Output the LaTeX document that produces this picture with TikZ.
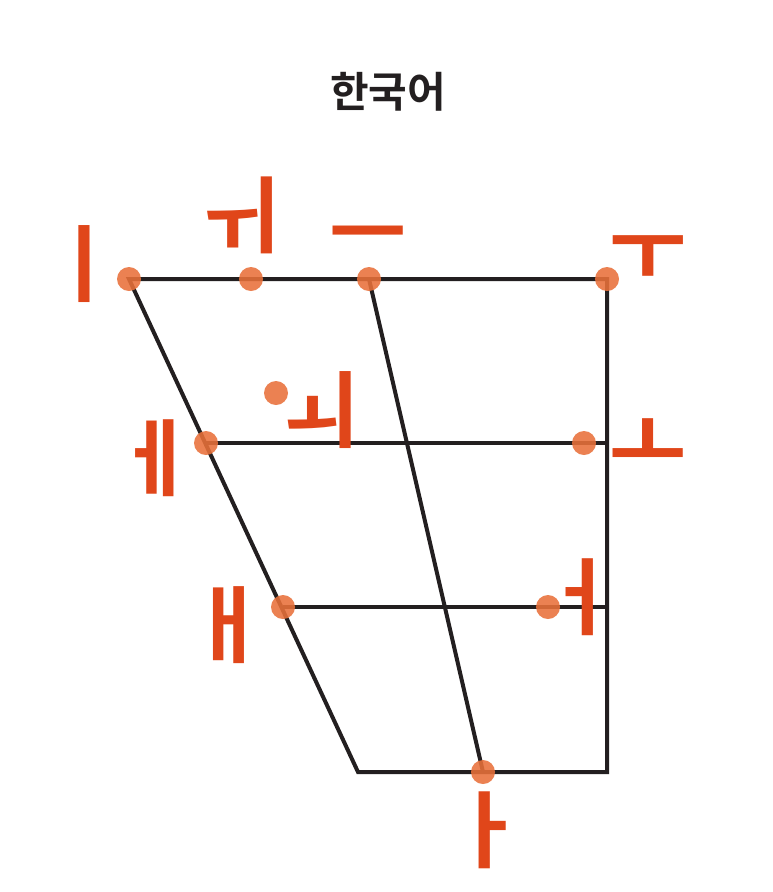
\documentclass[tikz,border=0pt]{standalone}
\usepackage{fontspec}
\newfontfamily\kr{Noto Sans CJK KR}[BoldFont={Noto Sans CJK KR Bold}]
\definecolor{labred}{HTML}{E0461A}
\definecolor{dotor}{HTML}{E8703A}
\definecolor{lineblk}{HTML}{231F20}
\begin{document}
\begin{tikzpicture}[x=1pt,y=-1pt,
  vdot/.style={circle,fill=dotor,fill opacity=0.88,inner sep=0pt,minimum size=24pt},
  vlab/.style={text=labred,font=\kr\bfseries\fontsize{84}{84}\selectfont,inner sep=0pt},
  frame/.style={draw=lineblk,line width=4pt}]
\useasboundingbox (0,0) rectangle (773,892);
\node[font=\kr\bfseries\fontsize{42}{42}\selectfont,text=lineblk] (title) at (388,92) {한국어};
% corners
\coordinate (tl) at (129,279);
\coordinate (tr) at (607,279);
\coordinate (bl) at (358,772);
\coordinate (br) at (607,772);
\coordinate (mr) at (607,443);
\coordinate (lr) at (607,607);
\coordinate (ml) at (206,443);
\coordinate (ll) at (283,607);
\coordinate (tc) at (369,279);
\coordinate (bc) at (483,772);
% frame
\draw[frame] (tl) -- (tr) -- (br) -- (bl) -- cycle;
\draw[frame] (tc) -- (bc);
\draw[frame] (ml) -- (mr);
\draw[frame] (ll) -- (lr);
% dots
\node[vdot] (di) at (tl) {};
\node[vdot] (dy) at (251,279) {};
\node[vdot] (deu) at (tc) {};
\node[vdot] (du) at (tr) {};
\node[vdot] (doe) at (276,393) {};
\node[vdot] (de) at (ml) {};
\node[vdot] (do) at (584,443) {};
\node[vdot] (dae) at (ll) {};
\node[vdot] (deo) at (548,607) {};
\node[vdot] (da) at (bc) {};
% labels
\node[vlab] (li) at (84,264) {ㅣ};
\node[vlab] (ly) at (240,215) {ㅟ};
\node[vlab] (leu) at (368,245) {ㅡ};
\node[vlab] (lu) at (648,258) {ㅜ};
\node[vlab] (loe) at (320,410) {ㅚ};
\node[vlab] (le) at (155,458) {ㅔ};
\node[vlab] (lo) at (648,446) {ㅗ};
\node[vlab] (lae) at (228,625) {ㅐ};
\node[vlab] (leo) at (580,597) {ㅓ};
\node[vlab] (la) at (487,830) {ㅏ};
\end{tikzpicture}
\end{document}
